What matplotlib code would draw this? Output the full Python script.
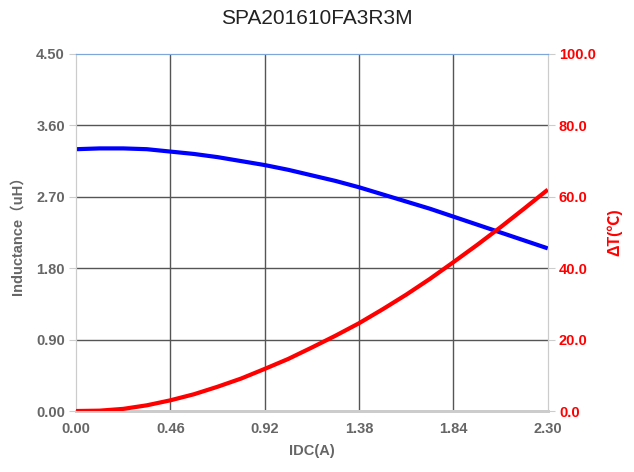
import numpy as np
import matplotlib.pyplot as plt

# data
idc = [0.000, 0.115, 0.230, 0.345, 0.460, 0.575, 0.690, 0.805, 0.920, 1.035, 1.150,
       1.265, 1.380, 1.495, 1.610, 1.725, 1.840, 1.955, 2.070, 2.185, 2.300]
inductance = [3.30, 3.31, 3.31, 3.30, 3.27, 3.24, 3.20, 3.15, 3.10, 3.04, 2.97,
              2.90, 2.82, 2.73, 2.64, 2.55, 2.45, 2.35, 2.25, 2.15, 2.05]
delta_t = [0.0, 0.1, 0.6, 1.6, 3.0, 4.7, 6.8, 9.1, 11.8, 14.6, 17.8,
           21.1, 24.6, 28.5, 32.6, 37.0, 41.7, 46.5, 51.5, 56.7, 62.0]

x_ticks = [0.00, 0.46, 0.92, 1.38, 1.84, 2.30]
l_ticks = [0.00, 0.90, 1.80, 2.70, 3.60, 4.50]
t_ticks = [0.0, 20.0, 40.0, 60.0, 80.0, 100.0]

fam = ['Liberation Sans', 'DejaVu Sans']
famcjk = ['Liberation Sans', 'Noto Sans CJK SC', 'DejaVu Sans']
gray = '#666666'

fig = plt.figure(figsize=(6.34, 4.72), dpi=100)
ax = fig.add_axes([0.12, 0.1292, 0.744, 0.7564])
ax2 = ax.twinx()

ax.plot(idc, inductance, color='#0000ff', lw=3, solid_capstyle='butt', zorder=3)
ax2.plot(idc, delta_t, color='#ff0000', lw=3, solid_capstyle='butt', zorder=3)

ax.set_xlim(0, 2.30)
ax.set_ylim(0, 4.50)
ax2.set_ylim(0, 100)
ax.set_xticks(x_ticks)
ax.set_yticks(l_ticks)
ax2.set_yticks(t_ticks)
ax.set_xticklabels(['%.2f' % v for v in x_ticks], family=fam, fontsize=10.5, weight='bold', color=gray)
ax.set_yticklabels(['%.2f' % v for v in l_ticks], family=fam, fontsize=10.5, weight='bold', color=gray)
ax2.set_yticklabels(['%.1f' % v for v in t_ticks], family=fam, fontsize=10.5, weight='bold', color='#ff0000')

for v in x_ticks[1:-1]:
    ax.axvline(v, color='#555555', lw=1.0, zorder=1)
for v in l_ticks[1:-1]:
    ax.axhline(v, color='#555555', lw=1.0, zorder=1)

ax.tick_params(axis='x', length=0, pad=8)
ax.tick_params(axis='y', length=5, color='#cccccc', pad=3)
ax2.tick_params(axis='y', length=5, color='#cccccc', pad=3)

for a in (ax, ax2):
    a.spines['top'].set_color('#7ea6d8')
    a.spines['bottom'].set_color('#cccccc')
    a.spines['left'].set_color('#cccccc')
    a.spines['right'].set_color('#cccccc')
    a.spines['bottom'].set_linewidth(2)

ax.set_xlabel('IDC(A)', family=fam, fontsize=10.5, weight='bold', color=gray, labelpad=6)
ax.set_ylabel('Inductance（uH）', family=famcjk, fontsize=10.5, weight='bold', color=gray, labelpad=8)
ax2.set_ylabel('ΔT(℃)', family=famcjk, fontsize=11.5, weight='bold', color='#ff0000', labelpad=8)

fig.text(0.5, 0.96, 'SPA201610FA3R3M', ha='center', va='center', family=fam, fontsize=15, color='#222222')

fig.savefig('out.png', dpi=100)
